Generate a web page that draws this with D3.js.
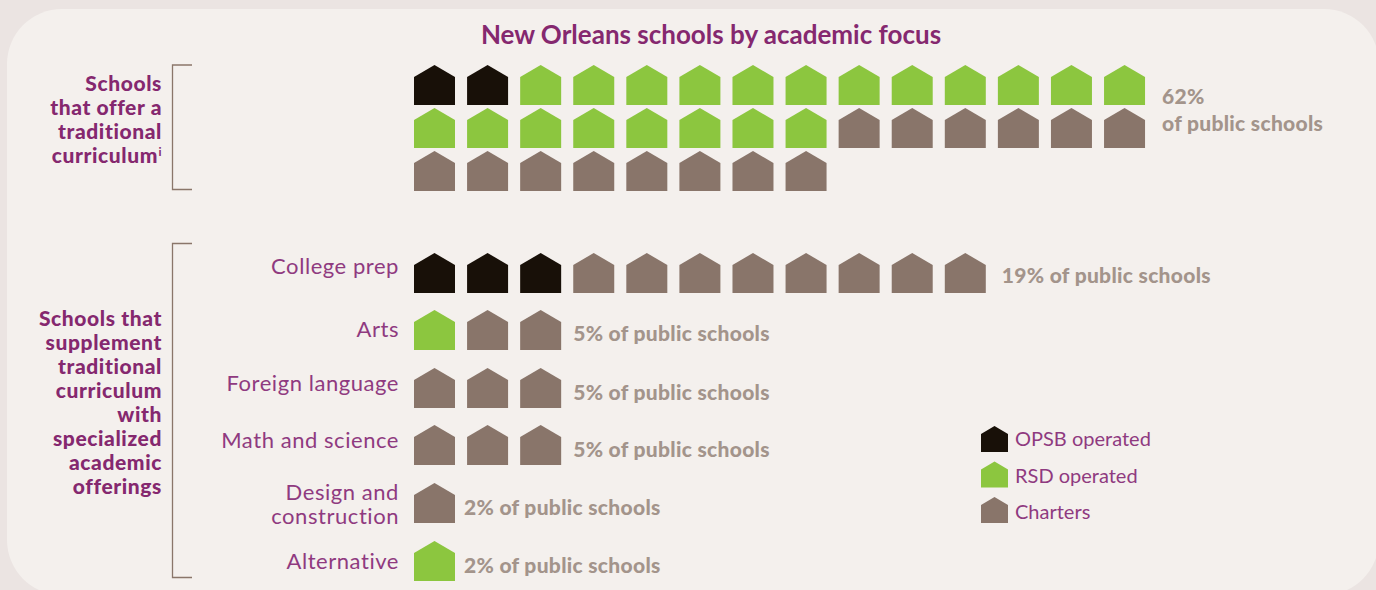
<!DOCTYPE html>
<html><head><meta charset="utf-8">
<script src="https://cdn.jsdelivr.net/npm/d3@7"></script>
<style>html,body{margin:0;padding:0;background:#ebe4e2;overflow:hidden}svg{display:block}text{font-family:Lato,sans-serif}</style>
</head><body><svg id="c" width="1376" height="590"></svg>
<script>
const title = "New Orleans schools by academic focus";
const operators = ["OPSB operated","RSD operated","Charters"];
const colors = ["#181008","#8cc63f","#89756a"];
const traditionalCounts = [2,20,14];
const traditionalRows = [0,1,2];
const perRow = 14;
const categories = ["College prep","Arts","Foreign language","Math and science","Design and construction","Alternative"];
const opsbCounts = [3,0,0,0,0,0];
const rsdCounts = [0,1,0,0,0,1];
const charterCounts = [8,2,3,3,1,0];
const shares = ["19%","5%","5%","5%","2%","2%"];
const traditionalLabel = ["Schools","that offer a","traditional","curriculum"];
const supplementLabel = ["Schools that","supplement","traditional","curriculum","with","specialized","academic","offerings"];

const svg = d3.select("#c");
const purple="#85286f", soft="#8f3a80", grey="#a3948b";
svg.append("rect").attr("x",7).attr("y",9).attr("width",1372).attr("height",586).attr("rx",55).attr("ry",55).attr("fill","#f4f0ed");

const W=41,H=40,E=12;
const house = d3.line()([[0,E],[W/2,0],[W,E],[W,H],[0,H],[0,E]])+"Z";
const x = d3.scaleLinear().domain([0,1]).range([414,467.08]);
const yTop = d3.scalePoint().domain(traditionalRows).range([65,151]);
const yCat = d3.scalePoint().domain(categories).range([253,541]);
const expand = cs => cs.flatMap((n,i)=>d3.range(n).map(()=>i));

// top block
const topUnits = expand(traditionalCounts);
svg.append("g").selectAll("path").data(topUnits).join("path").attr("d",house)
  .attr("transform",(d,i)=>`translate(${x(i%perRow)},${yTop(Math.floor(i/perRow))})`)
  .attr("fill",d=>colors[d]);

// lower block
categories.forEach((c,ci)=>{
  const units = expand([opsbCounts[ci],rsdCounts[ci],charterCounts[ci]]);
  svg.append("g").selectAll("path").data(units).join("path").attr("d",house)
    .attr("transform",(d,i)=>`translate(${x(i)},${Math.floor(yCat(c))})`).attr("fill",d=>colors[d]);
});

// title
svg.append("text").attr("x",711).attr("y",44).attr("text-anchor","middle").attr("font-size",26).attr("font-weight",700).attr("fill",purple).text(title);

// brackets
const bracket=(y0,y1)=>svg.append("path").attr("d",`M192,${y0}H172.5V${y1}H192`).attr("fill","none").attr("stroke","#8a766a").attr("stroke-width",1.3);
bracket(65,189.5); bracket(243.5,577.5);

// left bold labels
const bold=(lines,y0)=>lines.forEach((t,i)=>{
  svg.append("text").attr("x",162).attr("y",y0+i*24).attr("text-anchor","end").attr("font-size",21).attr("letter-spacing",0.6).attr("font-weight",900).attr("fill",purple).text(t);
});
bold(traditionalLabel.slice(0,3),91);
const cur=svg.append("text").attr("x",158).attr("y",163).attr("text-anchor","end").attr("font-size",21).attr("letter-spacing",0.6).attr("font-weight",900).attr("fill",purple).text(traditionalLabel[3]);
svg.append("text").attr("x",158.5).attr("y",156).attr("font-size",12).attr("font-weight",700).attr("fill",purple).text("i");
bold(supplementLabel,326);

// category labels
const catBase=[21,27,23,23,17,28];
const catStyle=s=>s.attr("text-anchor","end").attr("font-size",22).attr("letter-spacing",0.55).attr("fill",soft);
categories.forEach((c,i)=>{
  const y=Math.floor(yCat(c))+catBase[i];
  const t=svg.append("text").call(catStyle).attr("x",399).attr("y",y);
  if(c.startsWith("Design")){
    t.append("tspan").attr("x",399).text("Design and");
    t.append("tspan").attr("x",399).attr("dy",24).text("construction");
  } else t.text(c);
});

// value labels
const valGap=[16,12,12,12,9,9];
const valBase=[29,31,32,32,32,32];
const valStyle=s=>s.attr("font-size",21).attr("letter-spacing",0.3).attr("font-weight",900).attr("fill",grey);
categories.forEach((c,i)=>{
  const n=opsbCounts[i]+rsdCounts[i]+charterCounts[i];
  svg.append("text").call(valStyle).attr("x",x(n-1)+W+valGap[i]).attr("y",Math.floor(yCat(c))+valBase[i]+(i==0?1:0)).text(shares[i]+" of public schools");
});
svg.append("text").call(valStyle).attr("x",1162).attr("y",104).text("62%");
svg.append("text").call(valStyle).attr("x",1162).attr("y",131).text("of public schools");

// legend
const yLeg=d3.scalePoint().domain(operators).range([426,497]);
const yLegText=d3.scalePoint().domain(operators).range([446,519]);
const legHouse=d3.line()([[0,8],[13.5,0],[27,8],[27,26],[0,26]])+"Z";
operators.forEach((o,i)=>{
  svg.append("path").attr("d",legHouse).attr("transform",`translate(981,${yLeg(o)})`).attr("fill",colors[i]);
  svg.append("text").attr("x",1015).attr("y",yLegText(o)).attr("font-size",20).attr("fill",soft).text(o);
});
</script></body></html>
